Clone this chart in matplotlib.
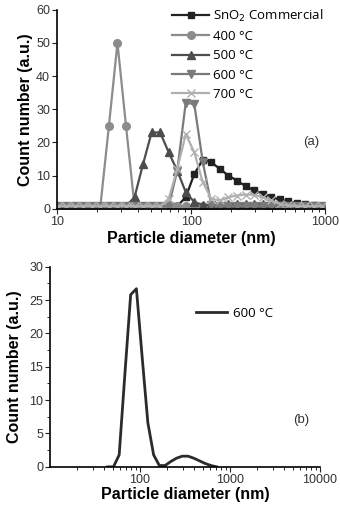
import numpy as np
import matplotlib
matplotlib.use('Agg')
import matplotlib.pyplot as plt
from matplotlib.ticker import LogLocator, NullFormatter, MultipleLocator

plt.rcParams['font.family'] = ['Liberation Sans', 'DejaVu Sans']

# size bins (nm)
size_a = [10.1, 11.7, 13.54, 15.69, 18.17, 21.04, 24.36, 28.21, 32.67, 37.84,
          43.82, 50.75, 58.77, 68.06, 78.82, 91.28, 105.7, 122.4, 141.8, 164.2,
          190.1, 220.2, 255.0, 295.3, 342.0, 396.1, 458.7, 531.2, 615.1, 712.4,
          825.0, 955.4]

commercial = [0.8, 0.8, 0.8, 0.8, 0.8, 0.8, 0.8, 0.8, 0.8, 0.8,
              0.8, 0.8, 0.8, 0.8, 0.8, 3.5, 10.5, 14.8, 14.0, 12.0,
              10.0, 8.5, 6.8, 5.6, 4.6, 3.5, 2.8, 2.2, 1.7, 1.4,
              1.2, 0.9]
c400 = [0.8, 0.8, 0.8, 0.8, 0.8, 0.8, 25.0, 50.0, 25.0, 0.8,
        0.8, 0.8, 0.8, 0.8, 0.8, 0.8, 0.8, 0.8, 0.8, 0.8,
        0.8, 0.8, 0.8, 0.8, 0.8, 0.8, 0.8, 0.8, 0.8, 0.8,
        0.8, 0.8]
c500 = [0.8, 0.8, 0.8, 0.8, 0.8, 0.8, 0.8, 0.8, 0.8, 3.5,
        13.5, 23.0, 23.0, 17.0, 11.5, 5.0, 2.0, 1.2, 1.0, 1.2,
        1.5, 1.5, 1.5, 1.5, 1.5, 1.2, 1.0, 0.8, 0.8, 0.8,
        0.8, 0.8]
c600 = [0.8, 0.8, 0.8, 0.8, 0.8, 0.8, 0.8, 0.8, 0.8, 0.8,
        0.8, 0.8, 0.8, 0.8, 11.5, 32.0, 31.5, 14.0, 1.2, 0.8,
        0.8, 0.8, 0.8, 0.8, 0.8, 0.8, 0.8, 0.8, 0.8, 0.8,
        0.8, 0.8]
c700 = [0.8, 0.8, 0.8, 0.8, 0.8, 0.8, 0.8, 0.8, 0.8, 0.8,
        0.8, 0.8, 0.8, 3.0, 12.0, 22.5, 17.0, 8.0, 3.0, 2.5,
        3.5, 4.0, 4.3, 4.2, 3.5, 2.5, 1.5, 1.0, 0.8, 0.8,
        0.8, 0.8]

size_b = [43.82, 50.75, 58.77, 68.06, 78.82, 91.28, 105.7, 122.4, 141.8, 164.2,
          190.1, 220.2, 255.0, 295.3, 342.0, 396.1, 458.7, 531.2, 615.1, 712.4]
b600 = [0.0, 0.0, 1.8, 14.0, 25.8, 26.7, 16.5, 6.6, 1.8, 0.2,
        0.2, 0.8, 1.3, 1.6, 1.6, 1.3, 0.9, 0.5, 0.2, 0.0]

tick_col = '#333333'
leg_font = {'family': 'Open Sans', 'size': 9.5}
lab_size = 11.5

fig = plt.figure(figsize=(3.4, 5.08), dpi=100)

# ---- panel (a)
ax1 = fig.add_axes([0.168, 0.589, 0.788, 0.392])
ax1.plot(size_a, commercial, color='#222222', marker='s', ms=5, lw=1.6, label='SnO$_2$ Commercial')
ax1.plot(size_a, c400, color='#8c8c8c', marker='o', ms=5.5, lw=1.6, label='400 °C')
ax1.plot(size_a, c500, color='#4d4d4d', marker='^', ms=5.5, lw=1.6, label='500 °C')
ax1.plot(size_a, c600, color='#7a7a7a', marker='v', ms=5.5, lw=1.6, label='600 °C')
ax1.plot(size_a, c700, color='#b0b0b0', marker='x', ms=5.5, lw=1.6, label='700 °C')
ax1.set_xscale('log')
ax1.set_xlim(10, 1000)
ax1.set_ylim(0, 60)
ax1.yaxis.set_major_locator(MultipleLocator(10))
ax1.set_xticks([10, 100, 1000])
ax1.set_xticklabels(['10', '100', '1000'])
ax1.xaxis.set_minor_locator(LogLocator(base=10, subs=np.arange(2, 10)))
ax1.xaxis.set_minor_formatter(NullFormatter())
ax1.set_xlabel('Particle diameter (nm)', fontsize=lab_size, fontweight='bold', labelpad=2)
ax1.set_ylabel('Count number (a.u.)', fontsize=lab_size, fontweight='bold', labelpad=2)
ax1.text(0.95, 0.32, '(a)', transform=ax1.transAxes, fontsize=9.5, color=tick_col, ha='center')
ax1.legend(loc='upper left', bbox_to_anchor=(0.40, 1.05), frameon=False, prop=leg_font,
           handlelength=2.8, handletextpad=0.3, labelspacing=0.48, borderpad=0.1)

# ---- panel (b)
ax2 = fig.add_axes([0.147, 0.081, 0.794, 0.394])
ax2.plot(size_b, b600, color='#2b2b2b', lw=2, label='600 °C')
ax2.set_xscale('log')
ax2.set_xlim(10, 10000)
ax2.set_ylim(0, 30)
ax2.yaxis.set_major_locator(MultipleLocator(5))
ax2.yaxis.set_minor_locator(MultipleLocator(2.5))
ax2.set_xticks([100, 1000, 10000])
ax2.set_xticklabels(['100', '1000', '10000'])
ax2.xaxis.set_minor_locator(LogLocator(base=10, subs=np.arange(2, 10)))
ax2.xaxis.set_minor_formatter(NullFormatter())
ax2.set_xlabel('Particle diameter (nm)', fontsize=lab_size, fontweight='bold', labelpad=1)
ax2.set_ylabel('Count number (a.u.)', fontsize=lab_size, fontweight='bold', labelpad=5)
ax2.text(0.93, 0.22, '(b)', transform=ax2.transAxes, fontsize=9.5, color=tick_col, ha='center')
ax2.legend(loc='upper left', bbox_to_anchor=(0.51, 0.84), frameon=False, prop=leg_font,
           handlelength=2.4, handletextpad=0.4, borderpad=0.1)

for ax in (ax1, ax2):
    ax.spines['top'].set_visible(False)
    ax.spines['right'].set_visible(False)
    ax.spines['left'].set_linewidth(1.2)
    ax.spines['bottom'].set_linewidth(1.2)
    ax.tick_params(axis='both', which='major', labelsize=9, colors='#222222',
                   labelcolor=tick_col, length=3.5, width=0.8, pad=1.5)
    ax.tick_params(axis='both', which='minor', length=2, width=0.6)

fig.savefig('out.png', dpi=100)
